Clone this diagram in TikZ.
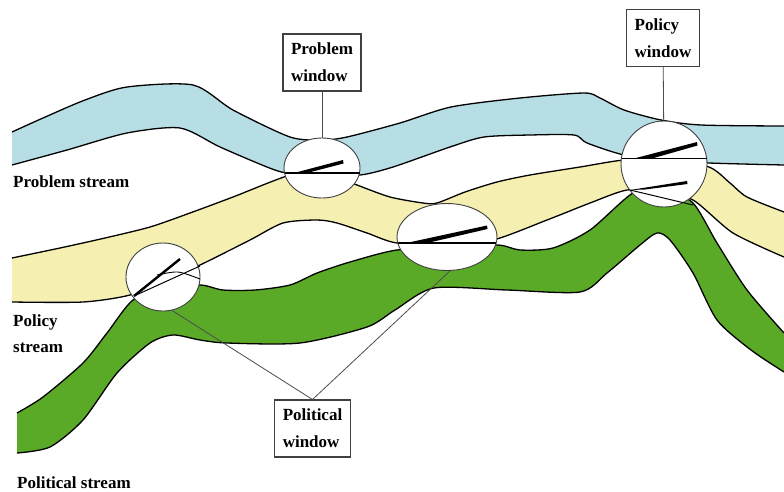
\documentclass[tikz,border=0pt]{standalone}
\usepackage{fontspec}
\setmainfont{Liberation Serif}
\usetikzlibrary{shapes.geometric}
\definecolor{probblue}{RGB}{184,222,229}
\definecolor{polyellow}{RGB}{245,240,178}
\definecolor{polgreen}{RGB}{90,170,40}
\tikzset{
  edge/.style={line width=1.3pt},
  window/.style={ellipse, draw=black!75, line width=0.9pt, fill=white, inner sep=0pt},
  winbox/.style={draw=black!75, line width=1.1pt, fill=white, align=left, inner xsep=8pt,
    inner ysep=9pt, font=\bfseries\fontsize{17}{27}\selectfont},
  streamname/.style={font=\bfseries\fontsize{17}{26}\selectfont, inner sep=0pt, align=left},
  link/.style={draw=black!70, line width=0.8pt}
}
\newcommand\probtop{plot[smooth, tension=.45] coordinates {(12,132) (43,118) (85,100) (127,87)
  (193,85) (233,110) (290,137) (322,140) (347,137) (400,123) (451,107) (520,98) (584,93)
  (600,98) (624,110) (661,120) (701,125) (784,126)}}
\newcommand\probbot{-- plot[smooth, tension=.45] coordinates {(784,165) (709,163) (666,160)
  (624,155) (587,143) (574,135) (530,135) (484,137) (450,147) (393,167) (360,175) (323,174)
  (287,173) (267,167) (220,147) (180,128) (127,133) (67,150) (12,165)}}
\newcommand\poltop{plot[smooth, tension=.45] coordinates {(12,258) (60,248) (105,238) (150,227)
  (190,213) (233,197) (290,175) (323,172) (357,185) (390,197) (423,203) (437,203) (465,192)
  (497,182) (530,175) (580,167) (624,160) (666,160) (709,167) (730,183) (747,197) (784,212)}}
\newcommand\polbot{-- plot[smooth, tension=.45] coordinates {(784,257) (733,233) (693,200)
  (660,192) (627,190) (590,203) (547,220) (493,240) (447,243) (397,243) (367,233) (337,223)
  (317,220) (283,223) (250,240) (200,265) (165,280) (130,295) (83,302) (12,302)}}
\newcommand\politop{plot[smooth, tension=.45] coordinates {(17,413) (43,397) (83,363) (107,333)
  (133,300) (165,290) (200,285) (223,290) (255,290) (290,285) (317,273) (350,262) (397,250)
  (447,250) (497,245) (520,250) (553,248) (590,230) (633,193) (660,192) (692,202) (717,243)
  (747,290) (784,333)}}
\newcommand\polibot{-- plot[smooth, tension=.45] coordinates {(784,372) (751,350) (717,320)
  (693,273) (670,240) (657,233) (640,245) (607,273) (580,292) (507,290) (434,288) (395,310)
  (367,327) (300,343) (227,343) (200,340) (173,335) (150,343) (117,373) (83,420) (50,447)
  (17,453)}}
\begin{document}
\begin{tikzpicture}[x=1pt, y=-1pt]
  \useasboundingbox (0,0) rectangle (784,491);
  \fill[probblue] \probtop \probbot -- cycle;
  \draw[edge] \probtop; \draw[edge] (784,165) \probbot;
  \fill[polyellow] \poltop \polbot -- cycle;
  \draw[edge] \poltop; \draw[edge] (784,257) \polbot;
  \fill[polgreen] \politop \polibot -- cycle;
  \draw[edge] \politop; \draw[edge] (784,372) \polibot;

  \node[window, minimum width=74pt, minimum height=68pt] (leftwin) at (163,277) {};
  \node[window, minimum width=76pt, minimum height=60pt] (probwin) at (322,168) {};
  \node[window, minimum width=100pt, minimum height=67pt] (midwin) at (447,237) {};
  \node[window, minimum width=86pt, minimum height=86pt] (polwin) at (664,164) {};

  \draw[line width=2.4pt] (134,296) -- (180,259);
  \draw[line width=1pt] (134,296) -- (200,266);
  \draw[line width=0.9pt] plot[smooth] coordinates {(157,275) (178,272) (200,279)};
  \draw[line width=1.1pt] (284.5,173) -- (359.5,173);
  \fill (292,173.5) -- (343,160) -- (343.5,163.5) -- (305,173.5) -- cycle;
  \draw[line width=1.1pt] (398,243) -- (496,243);
  \fill (404,243.5) -- (487,225.5) -- (487.5,229) -- (425,243.5) -- cycle;
  \draw[line width=1.3pt] (621.5,158.5) -- (706.5,158.5);
  \fill (634,158.5) -- (697,142) -- (697.5,145.5) -- (652,158.5) -- cycle;
  \fill (630,190) -- (687,181) -- (687.5,184) -- (645,189.5) -- cycle;
  \draw[line width=1pt] (630,190) -- (693,205);

  \node[winbox] (probbox) at (322,62.5) {Problem\\window};
  \node[winbox] (polbox) at (663,38) {Policy\\window};
  \node[winbox] (poltbox) at (312.5,428.5) {Political\\window};
  \draw[link] (probbox) -- (probwin);
  \draw[link] (polbox) -- (polwin);
  \draw[link] (poltbox.north) -- (leftwin.-75);
  \draw[link] (poltbox.north) -- (midwin.-85);

  \node[streamname, anchor=base west] (probname) at (13,187) {Problem stream};
  \node[streamname, anchor=north west] (polname) at (13,314) {Policy\\stream};
  \node[streamname, anchor=base west] (poltname) at (17,488) {Political stream};
\end{tikzpicture}
\end{document}
